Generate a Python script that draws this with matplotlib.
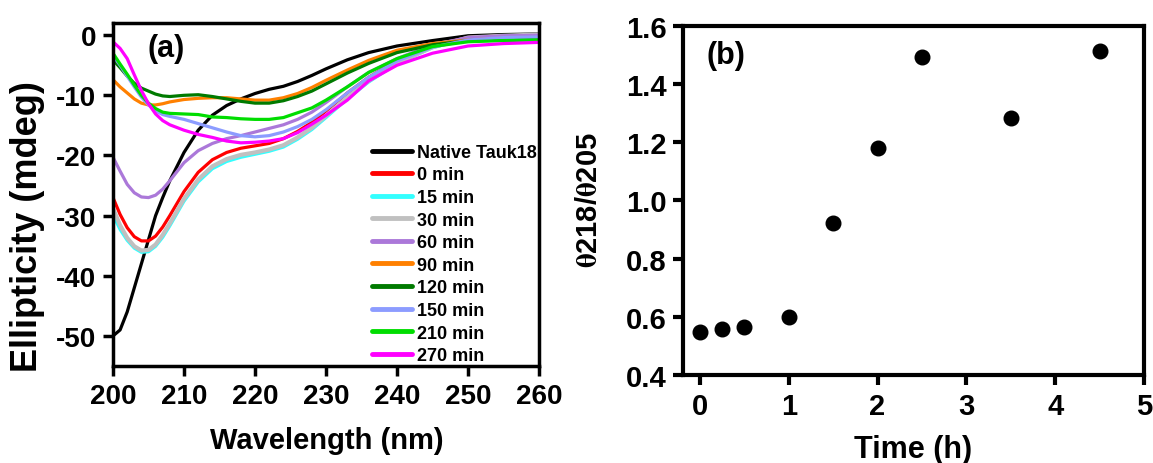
import numpy as np
import matplotlib
matplotlib.use('Agg')
import matplotlib.pyplot as plt

plt.rcParams['font.family'] = 'Liberation Sans'
plt.rcParams['font.weight'] = 'bold'
plt.rcParams['axes.labelweight'] = 'bold'
plt.rcParams['axes.unicode_minus'] = False
plt.rcParams['mathtext.fontset'] = 'stix'

# CD spectra, wavelength (nm) vs ellipticity (mdeg)
wavelength = [200, 201, 202, 203, 204, 205, 206, 207, 208, 210, 212, 214, 216, 218,
              220, 222, 224, 226, 228, 230, 233, 236, 240, 245, 250, 255, 260]

native = [-50, -49, -46, -42, -38, -34, -30, -27, -24.2, -19.5, -15.8, -13.3, -11.7, -10.6,
          -9.7, -9.0, -8.5, -7.7, -6.7, -5.6, -4.1, -2.9, -1.8, -0.9, -0.1, 0.1, 0.2]
min0 = [-27, -29.8, -32, -33.5, -34.2, -34.2, -33.4, -31.9, -30.0, -26.0, -22.8, -20.7, -19.5, -18.8,
        -18.4, -18.0, -17.2, -16.0, -14.5, -12.6, -9.6, -7.0, -4.2, -1.8, -0.4, -0.1, 0.0]
min15 = [-29.9, -32.3, -34.1, -35.4, -36.1, -36.0, -35.1, -33.6, -31.7, -27.6, -24.4, -22.2, -21.0, -20.3,
         -19.8, -19.3, -18.6, -17.3, -15.7, -13.7, -10.6, -7.8, -4.7, -2.1, -0.5, -0.2, -0.1]
min30 = [-28.8, -31.6, -33.7, -35.1, -35.8, -35.7, -34.8, -33.2, -31.3, -27.2, -24.0, -21.8, -20.6, -19.9,
         -19.5, -19.0, -18.3, -17.0, -15.4, -13.4, -10.4, -7.6, -4.6, -2.0, -0.4, -0.1, 0.1]
min60 = [-20.3, -22.6, -24.8, -26.2, -26.9, -27.0, -26.6, -25.6, -24.2, -21.2, -19.2, -18.0, -17.2, -16.7,
         -16.1, -15.5, -14.9, -14.0, -12.8, -11.2, -8.6, -6.2, -3.9, -1.6, -0.4, -0.1, 0.0]
min90 = [-7.4, -8.6, -9.6, -10.6, -11.3, -11.6, -11.6, -11.4, -11.1, -10.7, -10.5, -10.4, -10.4, -10.6,
         -10.8, -10.8, -10.4, -9.7, -8.7, -7.5, -5.8, -4.2, -2.5, -1.4, -0.8, -0.5, -0.4]
min120 = [-4.1, -5.4, -6.8, -8.0, -8.8, -9.3, -9.8, -10.1, -10.2, -10.0, -9.9, -10.2, -10.6, -11.0,
          -11.3, -11.3, -10.9, -10.2, -9.3, -8.1, -6.3, -4.7, -2.9, -1.6, -0.9, -0.6, -0.5]
min150 = [-3.4, -5.0, -6.8, -8.6, -10.3, -11.6, -12.6, -13.2, -13.5, -14.0, -14.7, -15.4, -16.1, -16.7,
          -16.9, -16.7, -16.1, -15.2, -14.0, -12.4, -9.6, -7.0, -4.3, -2.0, -0.8, -0.4, -0.3]
min210 = [-3.0, -4.8, -6.5, -8.3, -10.0, -11.3, -12.2, -12.8, -13.0, -13.1, -13.2, -13.6, -13.7, -13.9,
          -14.0, -14.0, -13.7, -12.9, -12.1, -10.8, -8.6, -6.2, -3.9, -1.9, -1.1, -0.9, -0.8]
min270 = [-1.1, -2.2, -3.9, -6.6, -9.2, -11.4, -13.1, -14.2, -14.9, -15.8, -16.5, -17.0, -17.6, -17.9,
          -17.8, -17.6, -17.2, -16.2, -14.8, -13.3, -10.8, -7.6, -5.0, -3.0, -1.8, -1.4, -1.2]

spectra = [native, min0, min15, min30, min60, min90, min120, min150, min210, min270]
labels = ['Native Tauk18', '0 min', '15 min', '30 min', '60 min', '90 min',
          '120 min', '150 min', '210 min', '270 min']
colors = ['#000000', '#ff0000', '#33ffff', '#c0c0c0', '#ab78d9', '#ff8000',
          '#007a00', '#8c9cff', '#00dd00', '#ff00ff']

# ratio theta218/theta205 against incubation time
time_h = [0, 0.25, 0.5, 1, 1.5, 2, 2.5, 3.5, 4.5]
ratio = [0.549, 0.557, 0.564, 0.600, 0.924, 1.181, 1.492, 1.284, 1.514]

fig = plt.figure(figsize=(11.53, 4.64), dpi=100)
ax1 = fig.add_axes([0.098, 0.209, 0.3695, 0.739])
ax2 = fig.add_axes([0.5924, 0.1897, 0.3998, 0.7521])

# (a) spectra
for y, lab, c in zip(spectra, labels, colors):
    lw = 3.0 if lab == '30 min' else 2.3
    ax1.plot(wavelength, y, color=c, lw=lw, label=lab, solid_capstyle='round')

ax1.set_xlim(200, 260)
ax1.set_ylim(-55, 2)
ax1.set_xticks(np.arange(200, 261, 10))
ax1.set_yticks(np.arange(-50, 1, 10))
ax1.set_xlabel('Wavelength (nm)', fontsize=21)
ax1.set_ylabel('Ellipticity (mdeg)', fontsize=26)
ax1.xaxis.set_label_coords(0.502, -0.175)
ax1.yaxis.set_label_coords(-0.16, 0.41)
ax1.tick_params(labelsize=20, width=2.5, length=7, direction='out', pad=5)
for s in ax1.spines.values():
    s.set_linewidth(2.5)
ax1.text(0.08, 0.97, '(a)', transform=ax1.transAxes, fontsize=22,
         fontweight='bold', va='top', ha='left')

leg = ax1.legend(loc='upper left', bbox_to_anchor=(0.608, 0.648), frameon=False,
                 fontsize=13, handlelength=2.2, handletextpad=0.3,
                 labelspacing=0.31, borderpad=0, borderaxespad=0)
for h in leg.get_lines():
    h.set_linewidth(3.5)

# (b) ratio
ax2.plot(time_h, ratio, 'o', color='black', markersize=10.5)
ax2.set_xlim(-0.19, 5)
ax2.set_ylim(0.4, 1.6)
ax2.set_xticks(range(0, 6))
ax2.set_yticks(np.arange(0.4, 1.61, 0.2))
ax2.yaxis.set_major_formatter(matplotlib.ticker.FormatStrFormatter('%.1f'))
ax2.set_xlabel('Time (h)', fontsize=22)
ax2.set_ylabel(r'$\mathrm{\theta}$218/$\mathrm{\theta}$205', fontsize=21)
ax2.xaxis.set_label_coords(0.499, -0.168)
ax2.yaxis.set_label_coords(-0.174, 0.504)
ax2.tick_params(labelsize=21, width=3, length=7, direction='out', pad=5)
for s in ax2.spines.values():
    s.set_linewidth(3)
ax2.text(0.05, 0.96, '(b)', transform=ax2.transAxes, fontsize=22,
         fontweight='bold', va='top', ha='left')

fig.savefig('out.png', dpi=100)
